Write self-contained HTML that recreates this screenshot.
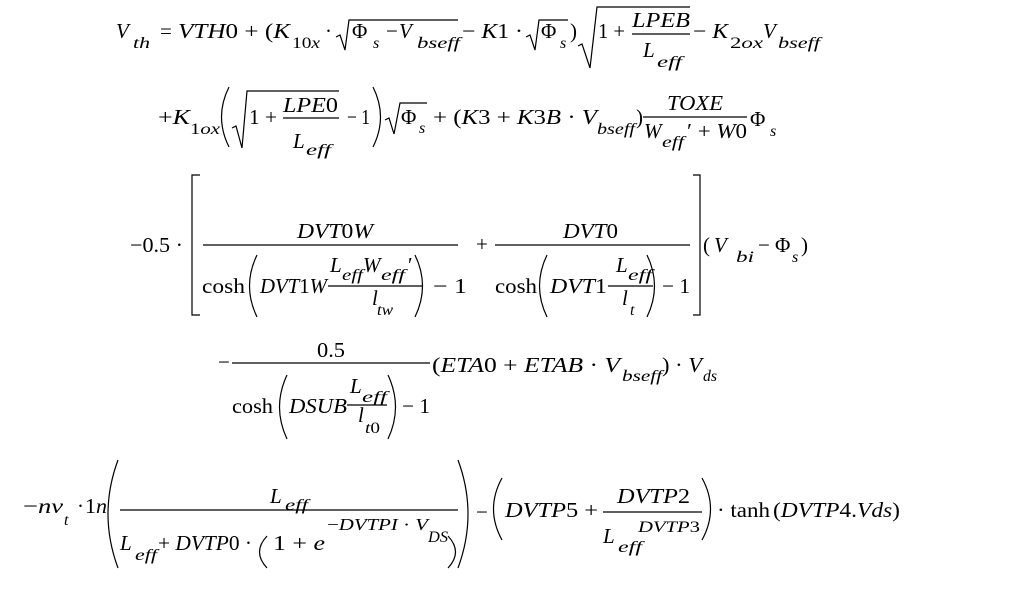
<!DOCTYPE html>
<html><head><meta charset="utf-8"><style>
html,body{margin:0;padding:0;background:#fff;}
svg{display:block;}
text{font-family:"Liberation Serif",serif;font-size:21px;fill:#000;}
.i{font-style:italic;}
.s{font-size:16px;}
.x{font-size:17px;}
path,line{stroke:#000;fill:none;stroke-width:1.2;}
</style></head><body>
<svg width="1013" height="590" viewBox="0 0 1013 590" xmlns="http://www.w3.org/2000/svg">
<!-- Line 1 -->
<text x="116" y="38" class="i">V</text>
<text x="133" y="48" class="i s" textLength="17" lengthAdjust="spacingAndGlyphs">th</text>
<text x="160" y="38">=</text>
<text x="178" y="38" textLength="112" lengthAdjust="spacingAndGlyphs"><tspan class="i">VTH</tspan>0 + (<tspan class="i">K</tspan></text>
<text x="292" y="48" class="s" textLength="28" lengthAdjust="spacingAndGlyphs">10<tspan class="i">x</tspan></text>
<text x="325" y="38">·</text>
<path d="M336,37 L340,35 L345,50 L349,20 L458,20"/>
<text x="352" y="38">Φ</text>
<text x="373" y="48" class="i s">s</text>
<text x="386" y="38">−</text>
<text x="399" y="38" class="i">V</text>
<text x="417" y="48" class="i s" textLength="43" lengthAdjust="spacingAndGlyphs">bseff</text>
<text x="462" y="38" textLength="61" lengthAdjust="spacingAndGlyphs">− <tspan class="i">K</tspan>1 ·</text>
<path d="M526,37 L530,35 L535,50 L539,20 L568,20"/>
<text x="541" y="38">Φ</text>
<text x="560" y="48" class="i s">s</text>
<text x="570" y="38">)</text>
<path d="M578,46 L582,44 L590,68 L597,7 L690,7"/>
<text x="598" y="38" textLength="27" lengthAdjust="spacingAndGlyphs">1 +</text>
<text x="632" y="27" class="i" textLength="58" lengthAdjust="spacingAndGlyphs">LPEB</text>
<line x1="632" y1="34" x2="690" y2="34"/>
<text x="643" y="57" class="i">L</text>
<text x="657" y="67" class="i s" textLength="25" lengthAdjust="spacingAndGlyphs">eff</text>
<text x="693" y="38" textLength="35" lengthAdjust="spacingAndGlyphs">− <tspan class="i">K</tspan></text>
<text x="730" y="48" class="s" textLength="33" lengthAdjust="spacingAndGlyphs">2<tspan class="i">ox</tspan></text>
<text x="763" y="38" class="i">V</text>
<text x="778" y="48" class="i s" textLength="42" lengthAdjust="spacingAndGlyphs">bseff</text>

<!-- Line 2 -->
<text x="158" y="124" textLength="32" lengthAdjust="spacingAndGlyphs">+<tspan class="i">K</tspan></text>
<text x="190" y="134" class="s" textLength="30" lengthAdjust="spacingAndGlyphs">1<tspan class="i">ox</tspan></text>
<path d="M229,87 Q214,117 229,147"/>
<path d="M232,128 L236,126 L242,148 L247,91 L339,91"/>
<text x="249" y="124" textLength="28" lengthAdjust="spacingAndGlyphs">1 +</text>
<text x="283" y="112" class="i" textLength="55" lengthAdjust="spacingAndGlyphs">LPE<tspan font-style="normal">0</tspan></text>
<line x1="283" y1="118" x2="339" y2="118"/>
<text x="293" y="148" class="i">L</text>
<text x="306" y="155" class="i s" textLength="25" lengthAdjust="spacingAndGlyphs">eff</text>
<text x="347" y="124" textLength="23" lengthAdjust="spacingAndGlyphs">− 1</text>
<path d="M373,87 Q388,117 373,147"/>
<path d="M385,120 L389,118 L394,134 L400,103 L427,103"/>
<text x="401" y="124">Φ</text>
<text x="419" y="133" class="i s">s</text>
<text x="433" y="124" textLength="164" lengthAdjust="spacingAndGlyphs">+ (<tspan class="i">K</tspan>3 + <tspan class="i">K</tspan>3<tspan class="i">B</tspan> · <tspan class="i">V</tspan></text>
<text x="597" y="134" class="i s" textLength="38" lengthAdjust="spacingAndGlyphs">bseff</text>
<text x="636" y="124">)</text>
<text x="667" y="110" class="i" textLength="56" lengthAdjust="spacingAndGlyphs">TOXE</text>
<line x1="643" y1="117" x2="747" y2="117"/>
<text x="644" y="138" class="i">W</text>
<text x="662" y="147" class="i s" textLength="22" lengthAdjust="spacingAndGlyphs">eff</text>
<text x="687" y="138" textLength="60" lengthAdjust="spacingAndGlyphs">′ + <tspan class="i">W</tspan>0</text>
<text x="750" y="126">Φ</text>
<text x="770" y="136" class="i s">s</text>

<!-- Line 3 -->
<text x="130" y="252" textLength="53" lengthAdjust="spacingAndGlyphs">−0.5 ·</text>
<path d="M200,175 L192,175 L192,315 L200,315"/>
<text x="297" y="238" class="i" textLength="76" lengthAdjust="spacingAndGlyphs">DVT<tspan font-style="normal">0</tspan>W</text>
<line x1="203" y1="245" x2="458" y2="245"/>
<text x="202" y="293" textLength="43" lengthAdjust="spacingAndGlyphs">cosh</text>
<path d="M257,255 Q242,286 257,317"/>
<text x="260" y="293" class="i" textLength="67" lengthAdjust="spacingAndGlyphs">DVT<tspan font-style="normal">1</tspan>W</text>
<text x="330" y="272" class="i">L</text>
<text x="342" y="280" class="i s" textLength="21" lengthAdjust="spacingAndGlyphs">eff</text>
<text x="363" y="272" class="i">W</text>
<text x="381" y="280" class="i s" textLength="24" lengthAdjust="spacingAndGlyphs">eff</text>
<text x="408" y="272">′</text>
<line x1="328" y1="286" x2="423" y2="286"/>
<text x="372" y="305" class="i">l</text>
<text x="377" y="315" class="i s" textLength="16" lengthAdjust="spacingAndGlyphs">tw</text>
<path d="M415,255 Q430,286 415,317"/>
<text x="433" y="293" textLength="34" lengthAdjust="spacingAndGlyphs">− 1</text>
<text x="476" y="251">+</text>
<text x="563" y="238" class="i" textLength="55" lengthAdjust="spacingAndGlyphs">DVT<tspan font-style="normal">0</tspan></text>
<line x1="495" y1="245" x2="690" y2="245"/>
<text x="495" y="293" textLength="42" lengthAdjust="spacingAndGlyphs">cosh</text>
<path d="M547,255 Q532,286 547,317"/>
<text x="550" y="293" class="i" textLength="57" lengthAdjust="spacingAndGlyphs">DVT<tspan font-style="normal">1</tspan></text>
<text x="616" y="272" class="i">L</text>
<text x="628" y="280" class="i s" textLength="24" lengthAdjust="spacingAndGlyphs">eff</text>
<line x1="608" y1="286" x2="653" y2="286"/>
<text x="622" y="305" class="i">l</text>
<text x="630" y="315" class="i s">t</text>
<path d="M647,255 Q662,286 647,317"/>
<text x="662" y="293" textLength="28" lengthAdjust="spacingAndGlyphs">− 1</text>
<path d="M693,175 L700,175 L700,315 L693,315"/>
<text x="703" y="252">(</text>
<text x="714" y="252" class="i">V</text>
<text x="736" y="262" class="i s" textLength="18" lengthAdjust="spacingAndGlyphs">bi</text>
<text x="758" y="252">−</text>
<text x="775" y="252">Φ</text>
<text x="792" y="262" class="i s">s</text>
<text x="801" y="252">)</text>

<!-- Line 4 -->
<text x="218" y="369">−</text>
<line x1="232" y1="363" x2="430" y2="363"/>
<text x="317" y="357" textLength="28" lengthAdjust="spacingAndGlyphs">0.5</text>
<text x="232" y="413" textLength="41" lengthAdjust="spacingAndGlyphs">cosh</text>
<path d="M287,375 Q272,407 287,439"/>
<text x="289" y="413" class="i" textLength="58" lengthAdjust="spacingAndGlyphs">DSUB</text>
<text x="350" y="393" class="i">L</text>
<text x="362" y="402" class="i s" textLength="25" lengthAdjust="spacingAndGlyphs">eff</text>
<line x1="347" y1="405" x2="387" y2="405"/>
<text x="358" y="422" class="i">l</text>
<text x="365" y="433" class="s" textLength="15" lengthAdjust="spacingAndGlyphs"><tspan class="i">t</tspan>0</text>
<path d="M388,375 Q403,407 388,439"/>
<text x="402" y="413" textLength="28" lengthAdjust="spacingAndGlyphs">− 1</text>
<text x="432" y="372" textLength="188" lengthAdjust="spacingAndGlyphs">(<tspan class="i">ETA</tspan>0 + <tspan class="i">ETAB</tspan> · <tspan class="i">V</tspan></text>
<text x="622" y="381" class="i s" textLength="40" lengthAdjust="spacingAndGlyphs">bseff</text>
<text x="662" y="372" textLength="40" lengthAdjust="spacingAndGlyphs">) · <tspan class="i">V</tspan></text>
<text x="703" y="381" class="i s" textLength="14" lengthAdjust="spacingAndGlyphs">ds</text>

<!-- Line 5 -->
<text x="23" y="513" textLength="40" lengthAdjust="spacingAndGlyphs">−<tspan class="i">nv</tspan></text>
<text x="64" y="525" class="i s">t</text>
<text x="77" y="513">·</text>
<text x="85" y="513" textLength="22" lengthAdjust="spacingAndGlyphs">1<tspan class="i">n</tspan></text>
<path d="M118,460 Q98,514 118,568"/>
<text x="270" y="503" class="i">L</text>
<text x="285" y="510" class="i s" textLength="23" lengthAdjust="spacingAndGlyphs">eff</text>
<line x1="120" y1="510" x2="458" y2="510"/>
<text x="120" y="550" class="i">L</text>
<text x="135" y="560" class="i s" textLength="22" lengthAdjust="spacingAndGlyphs">eff</text>
<text x="158" y="550" textLength="94" lengthAdjust="spacingAndGlyphs">+ <tspan class="i">DVTP</tspan>0 ·</text>
<path d="M267,536 Q252,552 267,568"/>
<text x="273" y="550" textLength="52" lengthAdjust="spacingAndGlyphs">1 + <tspan class="i">e</tspan></text>
<text x="327" y="530" class="x" textLength="101" lengthAdjust="spacingAndGlyphs">−<tspan class="i">DVTPI</tspan> · <tspan class="i">V</tspan></text>
<text x="428" y="542" class="i s" textLength="20" lengthAdjust="spacingAndGlyphs">DS</text>
<path d="M448,536 Q463,552 448,568"/>
<path d="M458,460 Q478,514 458,568"/>
<text x="476" y="519">−</text>
<path d="M502,478 Q485,509 502,540"/>
<text x="505" y="517" textLength="93" lengthAdjust="spacingAndGlyphs"><tspan class="i">DVTP</tspan>5 +</text>
<text x="617" y="503" class="i" textLength="73" lengthAdjust="spacingAndGlyphs">DVTP<tspan font-style="normal">2</tspan></text>
<line x1="603" y1="512" x2="702" y2="512"/>
<text x="603" y="543" class="i">L</text>
<text x="618" y="552" class="i s" textLength="24" lengthAdjust="spacingAndGlyphs">eff</text>
<text x="638" y="532" class="i s" textLength="62" lengthAdjust="spacingAndGlyphs">DVTP<tspan font-style="normal">3</tspan></text>
<path d="M702,478 Q719,509 702,540"/>
<text x="717" y="517" textLength="53" lengthAdjust="spacingAndGlyphs">· tanh</text>
<text x="773" y="517" textLength="127" lengthAdjust="spacingAndGlyphs">(<tspan class="i">DVTP</tspan>4.<tspan class="i">Vds</tspan>)</text>
</svg>
</body></html>
